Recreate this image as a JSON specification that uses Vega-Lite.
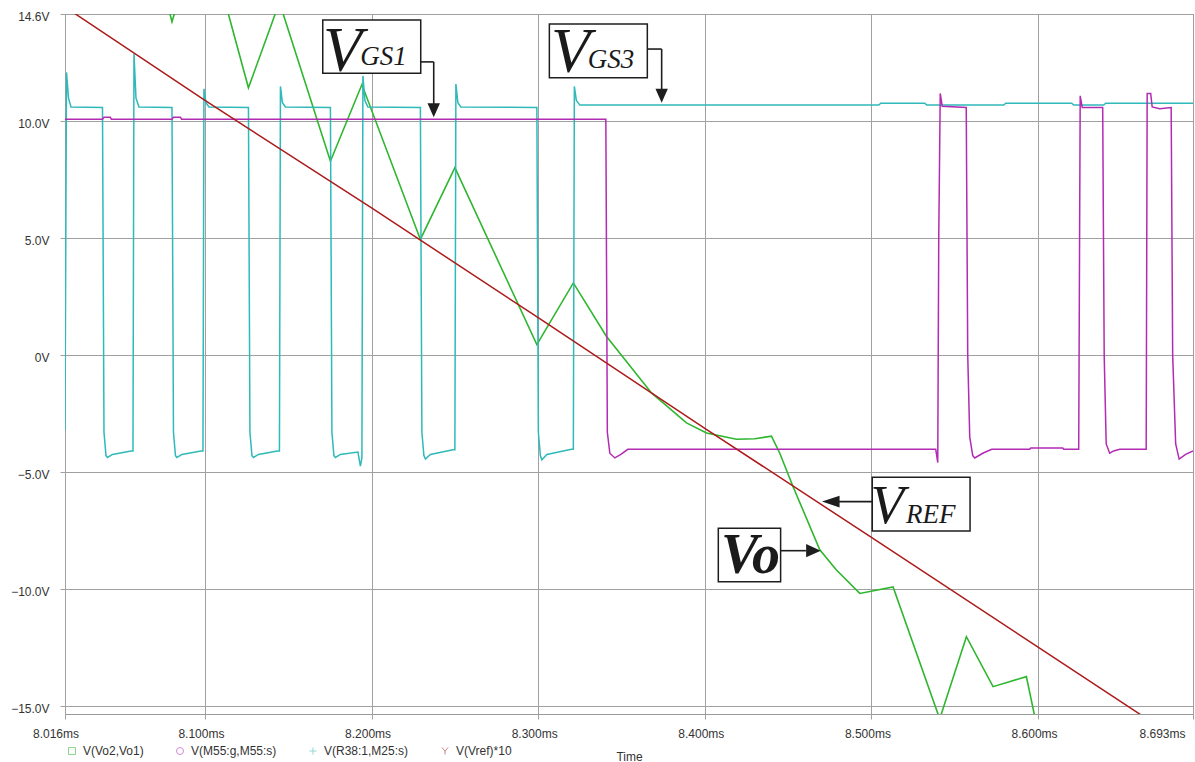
{
  "$schema": "https://vega.github.io/schema/vega-lite/v6.json",
  "width": 1128,
  "height": 700,
  "autosize": {"type": "none"},
  "padding": {"left": 65, "top": 14, "right": 2, "bottom": 48},
  "background": "white",
  "config": {
    "view": {"stroke": "#9a9a9a", "strokeWidth": 1},
    "axis": {
      "grid": true, "gridColor": "#a0a0a0", "gridWidth": 1, "domain": false,
      "ticks": true, "tickColor": "#a0a0a0", "tickSize": 5,
      "labelFont": "Liberation Sans", "labelFontSize": 12, "labelColor": "#333333",
      "titleFont": "Liberation Sans", "titleFontSize": 12, "titleFontWeight": "normal", "titleColor": "#333333"
    }
  },
  "datasets": {
    "vo": [
      {"t": 8.016, "v": 22.5}, {"t": 8.0385, "v": 16.4}, {"t": 8.0568, "v": 20.9}, {"t": 8.0802, "v": 14.27},
      {"t": 8.0988, "v": 18.6}, {"t": 8.1261, "v": 11.44}, {"t": 8.1447, "v": 15.1}, {"t": 8.1753, "v": 8.3},
      {"t": 8.1942, "v": 11.58}, {"t": 8.2293, "v": 4.95}, {"t": 8.25, "v": 8.02}, {"t": 8.2992, "v": 0.45},
      {"t": 8.3211, "v": 3.09}, {"t": 8.3409, "v": 0.81}, {"t": 8.368, "v": -1.62}, {"t": 8.389, "v": -2.9},
      {"t": 8.401, "v": -3.33}, {"t": 8.419, "v": -3.6}, {"t": 8.43, "v": -3.58}, {"t": 8.44, "v": -3.47},
      {"t": 8.445, "v": -4.2}, {"t": 8.4528, "v": -5.6}, {"t": 8.469, "v": -8.33}, {"t": 8.479, "v": -9.2},
      {"t": 8.493, "v": -10.2}, {"t": 8.513, "v": -9.92}, {"t": 8.541, "v": -15.57}, {"t": 8.557, "v": -12.05},
      {"t": 8.573, "v": -14.19}, {"t": 8.593, "v": -13.76}, {"t": 8.604, "v": -17.5}
    ],
    "r38": [
      {"t": 8.016, "v": -3.2}, {"t": 8.0169, "v": 12.1}, {"t": 8.0181, "v": 11.0}, {"t": 8.0196, "v": 10.62},
      {"t": 8.0385, "v": 10.6}, {"t": 8.0394, "v": -3.3}, {"t": 8.0406, "v": -4.3}, {"t": 8.0415, "v": -4.38}, {"t": 8.0445, "v": -4.25}, {"t": 8.0556, "v": -4.1},
      {"t": 8.0568, "v": -4.1}, {"t": 8.0574, "v": 12.9}, {"t": 8.0586, "v": 11.0}, {"t": 8.0604, "v": 10.62},
      {"t": 8.0802, "v": 10.6}, {"t": 8.0811, "v": -3.3}, {"t": 8.0823, "v": -4.3}, {"t": 8.0832, "v": -4.38}, {"t": 8.0862, "v": -4.25}, {"t": 8.0976, "v": -4.1},
      {"t": 8.0988, "v": -4.1}, {"t": 8.0994, "v": 11.4}, {"t": 8.1006, "v": 10.8}, {"t": 8.1024, "v": 10.62},
      {"t": 8.1261, "v": 10.6}, {"t": 8.127, "v": -3.3}, {"t": 8.1282, "v": -4.3}, {"t": 8.1291, "v": -4.38}, {"t": 8.1321, "v": -4.25}, {"t": 8.1435, "v": -4.1},
      {"t": 8.1447, "v": -4.1}, {"t": 8.1453, "v": 11.5}, {"t": 8.1465, "v": 10.8}, {"t": 8.1483, "v": 10.62},
      {"t": 8.1753, "v": 10.6}, {"t": 8.1762, "v": -3.3}, {"t": 8.1774, "v": -4.3}, {"t": 8.1783, "v": -4.38}, {"t": 8.1813, "v": -4.25}, {"t": 8.1918, "v": -4.15}, {"t": 8.1933, "v": -4.75},
      {"t": 8.1942, "v": -4.4}, {"t": 8.1948, "v": 11.95}, {"t": 8.196, "v": 10.9}, {"t": 8.1978, "v": 10.62},
      {"t": 8.2293, "v": 10.6}, {"t": 8.2302, "v": -3.3}, {"t": 8.2314, "v": -4.3}, {"t": 8.2323, "v": -4.45}, {"t": 8.2353, "v": -4.25}, {"t": 8.2488, "v": -4.05},
      {"t": 8.25, "v": -4.05}, {"t": 8.2506, "v": 11.6}, {"t": 8.2518, "v": 10.8}, {"t": 8.2536, "v": 10.62},
      {"t": 8.2992, "v": 10.6}, {"t": 8.3001, "v": -3.3}, {"t": 8.3013, "v": -4.3}, {"t": 8.3022, "v": -4.48}, {"t": 8.3052, "v": -4.25}, {"t": 8.3199, "v": -4.03},
      {"t": 8.3211, "v": -4.03}, {"t": 8.3217, "v": 11.5}, {"t": 8.3229, "v": 10.9}, {"t": 8.325, "v": 10.7},
      {"t": 8.5044, "v": 10.7}, {"t": 8.5056, "v": 10.78}, {"t": 8.532, "v": 10.78}, {"t": 8.5332, "v": 10.7},
      {"t": 8.5794, "v": 10.7}, {"t": 8.5806, "v": 10.78}, {"t": 8.6202, "v": 10.78}, {"t": 8.6214, "v": 10.7},
      {"t": 8.6394, "v": 10.7}, {"t": 8.6406, "v": 10.78}, {"t": 8.693, "v": 10.78}
    ],
    "m55": [
      {"t": 8.016, "v": 10.1}, {"t": 8.0385, "v": 10.1}, {"t": 8.0394, "v": 10.18}, {"t": 8.0432, "v": 10.18}, {"t": 8.0438, "v": 10.1},
      {"t": 8.0802, "v": 10.1}, {"t": 8.0811, "v": 10.18}, {"t": 8.0853, "v": 10.18}, {"t": 8.0859, "v": 10.1},
      {"t": 8.3406, "v": 10.1}, {"t": 8.3415, "v": -3.3}, {"t": 8.343, "v": -4.2}, {"t": 8.346, "v": -4.4}, {"t": 8.3496, "v": -4.25}, {"t": 8.3538, "v": -4.03},
      {"t": 8.5386, "v": -4.03}, {"t": 8.5398, "v": -4.6}, {"t": 8.5404, "v": 5.0}, {"t": 8.5413, "v": 11.2}, {"t": 8.5425, "v": 10.65},
      {"t": 8.5569, "v": 10.6}, {"t": 8.5578, "v": 0}, {"t": 8.559, "v": -3.5}, {"t": 8.5608, "v": -4.3}, {"t": 8.562, "v": -4.4}, {"t": 8.5668, "v": -4.2}, {"t": 8.5722, "v": -4.03},
      {"t": 8.595, "v": -4.03}, {"t": 8.5956, "v": -3.97}, {"t": 8.6148, "v": -3.97}, {"t": 8.6154, "v": -4.03},
      {"t": 8.6244, "v": -4.03}, {"t": 8.6253, "v": 11.1}, {"t": 8.6265, "v": 10.6}, {"t": 8.6388, "v": 10.6},
      {"t": 8.6397, "v": 0}, {"t": 8.6409, "v": -3.8}, {"t": 8.643, "v": -4.2}, {"t": 8.6454, "v": -4.1}, {"t": 8.649, "v": -4.03},
      {"t": 8.6649, "v": -4.03}, {"t": 8.6655, "v": 11.2}, {"t": 8.6676, "v": 11.2}, {"t": 8.6685, "v": 10.62}, {"t": 8.673, "v": 10.55}, {"t": 8.6799, "v": 10.6},
      {"t": 8.6808, "v": 0}, {"t": 8.6826, "v": -3.8}, {"t": 8.6847, "v": -4.45}, {"t": 8.6886, "v": -4.25}, {"t": 8.693, "v": -4.1}
    ],
    "vref": [
      {"t": 8.016, "v": 14.9}, {"t": 8.1, "v": 10.9}, {"t": 8.2, "v": 6.3}, {"t": 8.3, "v": 1.6},
      {"t": 8.4, "v": -3.13}, {"t": 8.5, "v": -7.8}, {"t": 8.6, "v": -12.5}, {"t": 8.665, "v": -15.55}
    ],
    "legendrows": [
      {"s": "V(Vo2,Vo1)", "t": 7.9, "v": 0}, {"s": "V(M55:g,M55:s)", "t": 7.9, "v": 0},
      {"s": "V(R38:1,M25:s)", "t": 7.9, "v": 0}, {"s": "V(Vref)*10", "t": 7.9, "v": 0}
    ],
    "boxes": [
      {"t": 8.1707, "t2": 8.2295, "v": 14.34, "v2": 12.06},
      {"t": 8.3067, "t2": 8.3655, "v": 14.17, "v2": 11.87},
      {"t": 8.5005, "t2": 8.5592, "v": -5.23, "v2": -7.53},
      {"t": 8.4081, "t2": 8.4455, "v": -7.41, "v2": -9.70}
    ],
    "leaders": [
      {"t": 8.2295, "t2": 8.2373, "v": 12.55, "v2": 12.55},
      {"t": 8.2373, "t2": 8.2373, "v": 12.55, "v2": 10.6},
      {"t": 8.3655, "t2": 8.3741, "v": 13.10, "v2": 13.10},
      {"t": 8.3741, "t2": 8.3741, "v": 13.10, "v2": 11.2},
      {"t": 8.477, "t2": 8.5005, "v": -6.27, "v2": -6.27},
      {"t": 8.4455, "t2": 8.4607, "v": -8.37, "v2": -8.37}
    ],
    "headsdown": [{"t": 8.2373, "v": 10.48}, {"t": 8.3741, "v": 11.10}],
    "headsleft": [{"t": 8.4756, "v": -6.27}],
    "headsright": [{"t": 8.4652, "v": -8.37}],
    "bigv": [{"t": 8.1708, "v": 12.14, "txt": "V"}, {"t": 8.3077, "v": 12.13, "txt": "V"}],
    "refv": [{"t": 8.4995, "v": -7.2, "txt": "V"}],
    "subs": [{"t": 8.1932, "v": 12.42, "txt": "GS1"}, {"t": 8.3297, "v": 12.28, "txt": "GS3"}, {"t": 8.5207, "v": -7.2, "txt": "REF"}],
    "votext": [{"t": 8.4097, "v": -9.34, "txt": "Vo"}]
  },
  "encoding": {
    "x": {"field": "t", "type": "quantitative",
      "scale": {"domain": [8.016, 8.693], "nice": false, "zero": false},
      "axis": {"title": "Time", "values": [8.016, 8.1, 8.2, 8.3, 8.4, 8.5, 8.6, 8.693],
        "labelExpr": "format(datum.value, '.3f') + 'ms'", "labelPadding": 9, "labelFlush": false, "labelOverlap": false,
        "labelOffset": {"condition": [{"test": "datum.value < 8.05", "value": -9.5}, {"test": "datum.value > 8.65", "value": -31}], "value": -4},
        "titlePadding": 12}},
    "y": {"field": "v", "type": "quantitative",
      "scale": {"domain": [-15.36, 14.6], "nice": false, "zero": false},
      "axis": {"title": null, "values": [-15, -10, -5, 0, 5, 10, 14.6],
        "labelExpr": "datum.value == 0 ? '0V' : format(datum.value, '.1f') + 'V'", "labelPadding": 11, "labelOffset": 2.5, "labelOverlap": false}}
  },
  "layer": [
    {"data": {"name": "vo"}, "mark": {"type": "line", "clip": true, "strokeWidth": 1.6, "color": "#2eb62e"}},
    {"data": {"name": "r38"}, "mark": {"type": "line", "clip": true, "strokeWidth": 1.5, "color": "#2fb9b9"}},
    {"data": {"name": "m55"}, "mark": {"type": "line", "clip": true, "strokeWidth": 1.5, "color": "#b22bb2"}},
    {"data": {"name": "vref"}, "mark": {"type": "line", "clip": true, "strokeWidth": 1.5, "color": "#ad1a1a"}},
    {"data": {"name": "legendrows"}, "mark": {"type": "point", "clip": true, "filled": false, "opacity": 1, "strokeWidth": 1},
     "encoding": {
       "color": {"field": "s", "type": "nominal",
         "scale": {"domain": ["V(Vo2,Vo1)", "V(M55:g,M55:s)", "V(R38:1,M25:s)", "V(Vref)*10"], "range": ["#2eb62e", "#b22bb2", "#2fb9b9", "#ad1a1a"]},
         "legend": {"orient": "none", "legendX": 1, "legendY": 731, "direction": "horizontal", "title": null,
           "columnPadding": 30, "symbolSize": 49, "symbolStrokeWidth": 1, "symbolOpacity": 0.55, "labelOffset": 5, "padding": 0,
           "labelFont": "Liberation Sans", "labelFontSize": 12, "labelColor": "#333333"}},
       "shape": {"field": "s", "type": "nominal",
         "scale": {"domain": ["V(Vo2,Vo1)", "V(M55:g,M55:s)", "V(R38:1,M25:s)", "V(Vref)*10"], "range": ["square", "circle", "M-1,0L1,0M0,-1L0,1", "M-0.9,-1L0,0L0.9,-1M0,0L0,1"]},
         "legend": {"orient": "none", "legendX": 1, "legendY": 731, "direction": "horizontal", "title": null,
           "columnPadding": 30, "symbolSize": 49, "symbolStrokeWidth": 1, "symbolOpacity": 0.55, "labelOffset": 5, "padding": 0,
           "labelFont": "Liberation Sans", "labelFontSize": 12, "labelColor": "#333333"}}
     }},
    {"data": {"name": "boxes"}, "mark": {"type": "rect", "fill": "white", "stroke": "#1e1e1e", "strokeWidth": 1.5},
     "encoding": {"x2": {"field": "t2"}, "y2": {"field": "v2"}}},
    {"data": {"name": "leaders"}, "mark": {"type": "rule", "color": "#1e1e1e", "strokeWidth": 1.6},
     "encoding": {"x2": {"field": "t2"}, "y2": {"field": "v2"}}},
    {"data": {"name": "headsdown"}, "mark": {"type": "point", "shape": "M-0.88,-1L0.88,-1L0,1Z", "size": 200, "filled": true, "opacity": 1, "color": "#1e1e1e"}},
    {"data": {"name": "headsleft"}, "mark": {"type": "point", "shape": "M1,-0.67L1,0.67L-1,0Z", "size": 310, "filled": true, "opacity": 1, "color": "#1e1e1e"}},
    {"data": {"name": "headsright"}, "mark": {"type": "point", "shape": "M-1,-0.9L-1,0.9L1,0Z", "size": 216, "filled": true, "opacity": 1, "color": "#1e1e1e"}},
    {"data": {"name": "bigv"}, "mark": {"type": "text", "font": "Liberation Serif", "fontStyle": "italic", "fontSize": 64, "align": "left", "baseline": "alphabetic", "color": "#1a1a1a"},
     "encoding": {"text": {"field": "txt"}}},
    {"data": {"name": "refv"}, "mark": {"type": "text", "font": "Liberation Serif", "fontStyle": "italic", "fontSize": 55, "align": "left", "baseline": "alphabetic", "color": "#1a1a1a"},
     "encoding": {"text": {"field": "txt"}}},
    {"data": {"name": "subs"}, "mark": {"type": "text", "font": "Liberation Serif", "fontStyle": "italic", "fontSize": 27, "align": "left", "baseline": "alphabetic", "color": "#1a1a1a"},
     "encoding": {"text": {"field": "txt"}}},
    {"data": {"name": "votext"}, "mark": {"type": "text", "font": "Liberation Serif", "fontStyle": "italic", "fontWeight": "bold", "fontSize": 56, "align": "left", "baseline": "alphabetic", "color": "#1a1a1a"},
     "encoding": {"text": {"field": "txt"}}}
  ]
}
